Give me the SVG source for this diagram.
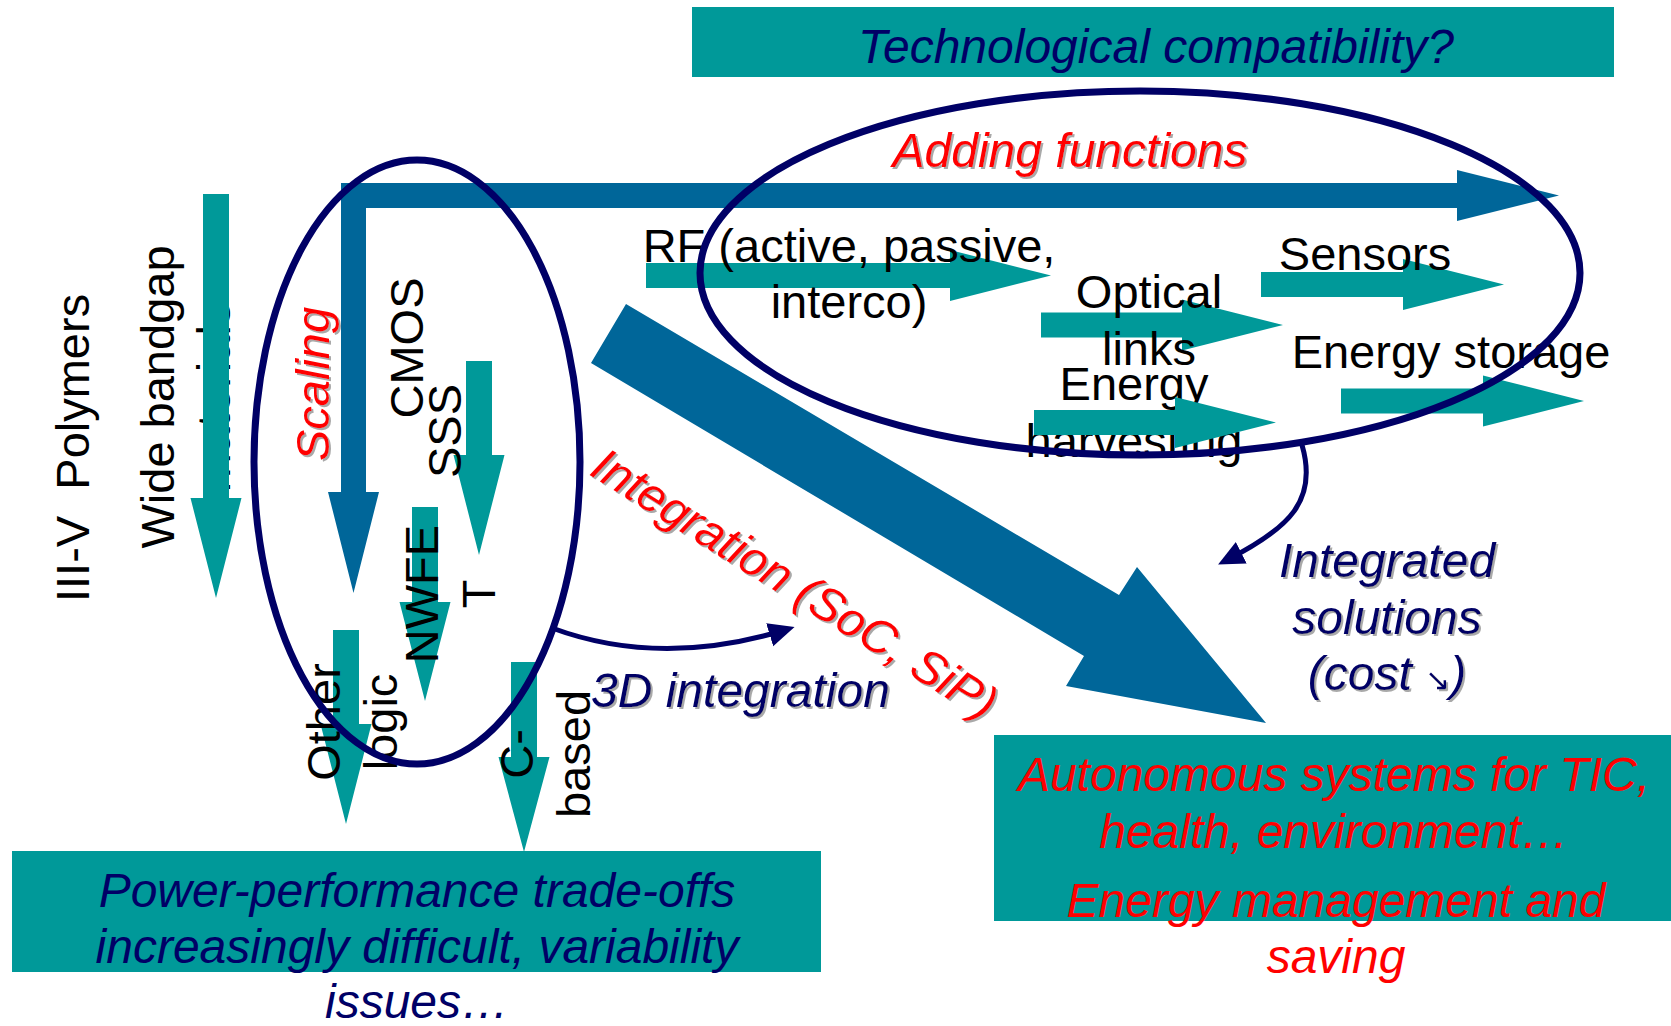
<svg xmlns="http://www.w3.org/2000/svg" width="1671" height="1026" viewBox="0 0 1671 1026">
  <defs>
    <filter id="sh" x="-5%" y="-5%" width="110%" height="110%">
      <feDropShadow dx="2" dy="2" stdDeviation="0.6" flood-color="#8c8c8c" flood-opacity="0.75"/>
    </filter>
    <marker id="nhead" markerUnits="userSpaceOnUse" markerWidth="28" markerHeight="26" refX="16" refY="12" orient="auto">
      <path d="M0,0 L26,12 L0,24 z" fill="#000066"/>
    </marker>
  </defs>
  <style>
    .t { font-family: "Liberation Sans", Arial, sans-serif; font-size: 47px; fill: #000000; }
    .b { font-size: 48px; }
    .it { font-style: italic; }
    .red { fill: #FF0000; }
    .navy { fill: #000066; }
    .mid { text-anchor: middle; }
    .box { fill: #009999; }
    .teal { fill: #009999; }
    .blue { fill: #006699; }
    .ell { fill: none; stroke: #000066; stroke-width: 7; }
    .conn { fill: none; stroke: #000066; stroke-width: 5; }
  </style>
  <rect width="1671" height="1026" fill="#ffffff"/>

  <g id="box-technological-compatibility">
    <rect class="box" x="692" y="7" width="922" height="70"/>
    <text class="t b it navy mid" x="1156" y="63">Technological compatibility?</text>
  </g>

  <g id="box-power-performance">
    <rect class="box" x="12" y="851" width="809" height="121"/>
    <text class="t b it navy mid" x="417" y="907">Power-performance trade-offs</text>
    <text class="t b it navy mid" x="417" y="963">increasingly difficult, variability</text>
    <text class="t b it navy mid" x="417" y="1018">issues…</text>
  </g>

  <g id="box-autonomous-systems">
    <rect class="box" x="994" y="735" width="677" height="186"/>
    <text class="t b it red mid" x="1334" y="791">Autonomous systems for TIC,</text>
    <text class="t b it red mid" x="1334" y="848">health, environment…</text>
    <text class="t b it red mid" x="1336" y="917">Energy management and</text>
    <text class="t b it red mid" x="1336" y="973">saving</text>
  </g>

  <g id="node-iii-v-polymers">
    <text class="t" transform="translate(89,602) rotate(-90)" xml:space="preserve">III-V  Polymers</text>
  </g>

  <g id="node-wide-bandgap">
    <text class="t mid" transform="translate(174,397) rotate(-90)"><tspan x="0" y="0">Wide bandgap</tspan><tspan x="0" y="56">materials</tspan></text>
    <polygon class="teal" points="203,194 229,194 229,498 241.5,498 216,598 190.5,498 203,498"/>
  </g>

  <g id="node-cmos-sss">
    <polygon class="teal" points="466,361 492,361 492,455 504.5,455 479,555 453.5,455 466,455"/>
    <text class="t mid" transform="translate(423,348) rotate(-90)">CMOS</text>
    <text class="t mid" transform="translate(461,431) rotate(-90)">SSS</text>
  </g>

  <g id="node-nwfet">
    <polygon class="teal" points="412,507 438,507 438,602 450.5,602 425,701 399.5,602 412,602"/>
    <text class="t mid" transform="translate(438,594) rotate(-90)"><tspan x="0" y="0">NWFE</tspan><tspan x="0" y="57">T</tspan></text>
  </g>

  <g id="node-other-logic">
    <polygon class="teal" points="333,630 359,630 359,724 371.5,724 346,824 320.5,724 333,724"/>
    <text class="t mid" transform="translate(340,722) rotate(-90)"><tspan x="0" y="0">Other</tspan><tspan x="0" y="57">logic</tspan></text>
  </g>

  <g id="node-c-based">
    <polygon class="teal" points="511,662 537,662 537,757 549.5,757 524,852 498.5,757 511,757"/>
    <text class="t mid" transform="translate(533,754) rotate(-90)"><tspan x="0" y="0">C-</tspan><tspan x="0" y="57">based</tspan></text>
  </g>

  <g id="node-rf">
    <polygon class="teal" points="646,263 950,263 950,250 1051,275.5 950,301 950,288 646,288"/>
    <text class="t mid" x="849" y="262">RF (active, passive,</text>
    <text class="t mid" x="849" y="318">interco)</text>
  </g>

  <g id="node-optical-links">
    <polygon class="teal" points="1041,312.5 1182,312.5 1182,299.5 1283,325 1182,350.5 1182,337.5 1041,337.5"/>
    <text class="t mid" x="1149" y="308">Optical</text>
    <text class="t mid" x="1149" y="365">links</text>
  </g>

  <g id="node-energy-harvesting">
    <text class="t mid" x="1134" y="400">Energy</text>
    <text class="t mid" x="1134" y="457">harvesting</text>
    <polygon class="teal" points="1034,410 1175,410 1175,397 1276,422.5 1175,448 1175,435 1034,435"/>
  </g>

  <g id="node-sensors">
    <polygon class="teal" points="1261,272 1403,272 1403,259 1504,284.5 1403,310 1403,297 1261,297"/>
    <text class="t mid" x="1365" y="270">Sensors</text>
  </g>

  <g id="node-energy-storage">
    <polygon class="teal" points="1341,388.5 1483,388.5 1483,375.5 1584,401 1483,426.5 1483,413.5 1341,413.5"/>
    <text class="t mid" x="1451" y="368">Energy storage</text>
  </g>

  <g id="connectors">
    <polygon class="blue" points="341,183 1457,183 1457,170 1559,195.5 1457,221 1457,208 366,208 366,492 379,492 353.5,593 328,492 341,492"/>
    <polygon class="blue" points="626,304 1119,595 1137,567 1266,723 1066,686 1084,656 591,363"/>
    <path class="conn" d="M552,628 Q660,668 785,630" marker-end="url(#nhead)"/>
    <path class="conn" d="M1302,445 C1318,500 1290,528 1227,560" marker-end="url(#nhead)"/>
  </g>

  <g id="scaling-group">
    <ellipse class="ell" cx="417" cy="462" rx="163" ry="302"/>
    <g filter="url(#sh)">
      <text class="t it red" transform="translate(329,461) rotate(-90)">Scaling</text>
    </g>
  </g>

  <g id="adding-functions-group">
    <ellipse class="ell" cx="1140" cy="273" rx="440" ry="182"/>
    <g filter="url(#sh)">
      <text class="t b it red mid" x="1070" y="167">Adding functions</text>
    </g>
  </g>

  <g id="label-integration" filter="url(#sh)">
    <text class="t b it red" transform="translate(588,474) rotate(32)">Integration (SoC, SiP)</text>
  </g>

  <g id="label-3d-integration" filter="url(#sh)">
    <text class="t b it navy" x="591" y="707">3D integration</text>
  </g>

  <g id="label-integrated-solutions" filter="url(#sh)">
    <text class="t b it navy mid" x="1387" y="577">Integrated</text>
    <text class="t b it navy mid" x="1387" y="634">solutions</text>
    <text class="t b it navy mid" x="1387" y="690">(cost <tspan style="font-family:'DejaVu Sans',sans-serif;font-style:normal;font-size:30px">↘</tspan>)</text>
  </g>
</svg>
